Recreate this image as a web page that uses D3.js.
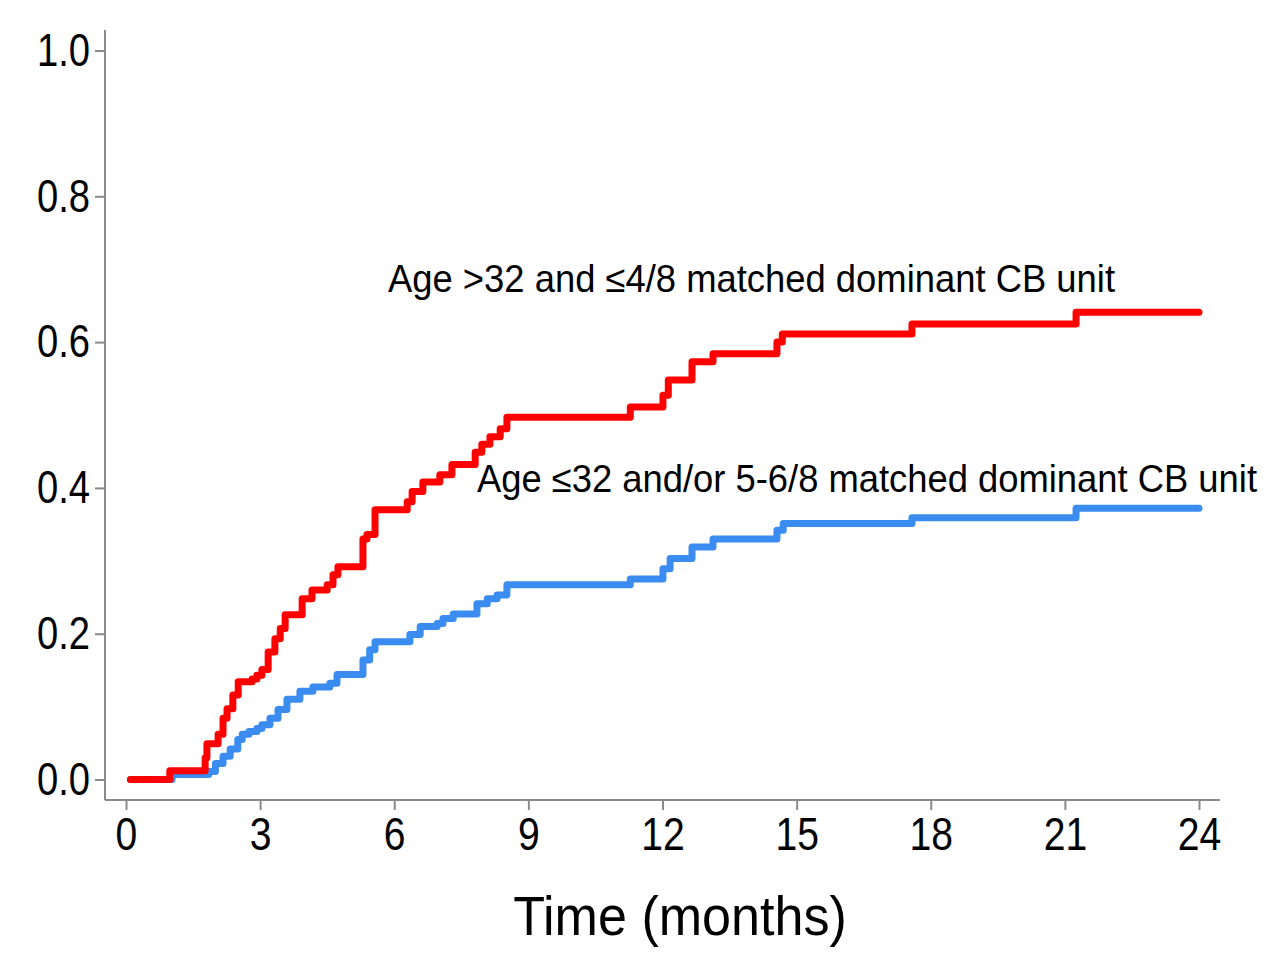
<!DOCTYPE html>
<html>
<head>
<meta charset="utf-8">
<script src="https://cdn.jsdelivr.net/npm/d3@7"></script>
<style>
  html, body { margin: 0; padding: 0; background: #fff; }
  svg { display: block; }
  text { font-family: "Liberation Sans", Arial, sans-serif; fill: #000; }
</style>
</head>
<body>
<svg id="chart" width="1280" height="973"></svg>
<script>
// ---- Data ----
const xTicks = [0, 3, 6, 9, 12, 15, 18, 21, 24];
const yTicks = [0.0, 0.2, 0.4, 0.6, 0.8, 1.0];
const xTitle = "Time (months)";

const seriesNames = [
  "Age ≤32 and/or 5-6/8 matched dominant CB unit",
  "Age >32 and ≤4/8 matched dominant CB unit"
];

// step functions: [time (months), cumulative incidence]
const blueSteps = [
  [0.1,0],[1.03,0.007],[1.85,0.011],[2.0,0.022],[2.17,0.032],[2.33,0.042],[2.5,0.055],
  [2.6,0.062],[2.75,0.066],[2.93,0.070],[3.04,0.075],[3.22,0.084],[3.40,0.096],[3.60,0.110],
  [3.89,0.121],[4.18,0.127],[4.56,0.132],[4.72,0.144],[5.30,0.164],[5.45,0.178],[5.57,0.189],
  [6.35,0.199],[6.58,0.210],[6.96,0.214],[7.09,0.221],[7.32,0.227],[7.85,0.241],[8.08,0.248],
  [8.30,0.253],[8.52,0.267],[11.28,0.275],[12.01,0.289],[12.17,0.303],[12.66,0.319],
  [13.13,0.330],[14.56,0.342],[14.70,0.351],[17.58,0.359],[21.25,0.372],[24.0,0.372]
];

const redSteps = [
  [0.1,0],[0.98,0.012],[1.77,0.030],[1.81,0.049],[2.06,0.062],[2.17,0.084],[2.26,0.097],
  [2.39,0.116],[2.51,0.134],[2.82,0.138],[2.93,0.143],[3.04,0.151],[3.18,0.175],[3.33,0.193],
  [3.45,0.207],[3.56,0.226],[3.94,0.248],[4.16,0.260],[4.50,0.267],[4.63,0.281],[4.74,0.292],
  [5.30,0.330],[5.39,0.336],[5.57,0.370],[6.29,0.381],[6.40,0.395],[6.64,0.408],[7.02,0.418],
  [7.29,0.432],[7.81,0.449],[7.96,0.460],[8.14,0.470],[8.37,0.481],[8.52,0.497],[11.28,0.511],
  [12.01,0.527],[12.13,0.548],[12.66,0.573],[13.13,0.584],[14.56,0.600],[14.68,0.611],
  [17.58,0.625],[21.25,0.641],[24.0,0.641]
];

// ---- Layout ----
const svg = d3.select("#chart");
const x = d3.scaleLinear().domain([0, 24]).range([126, 1199]);
const y = d3.scaleLinear().domain([0, 1]).range([779.5, 50.5]);
const axisColor = "#8a8a8a";
const frameLeft = 105, frameBottom = 800, frameTop = 30, frameRight = 1220;

function narrow(sel, k) {
  sel.each(function() {
    const w = this.getComputedTextLength();
    d3.select(this).attr("textLength", w * k).attr("lengthAdjust", "spacingAndGlyphs");
  });
}

// Y axis
const gy = svg.append("g").attr("transform", `translate(${frameLeft},0)`)
  .call(d3.axisLeft(y).tickValues(yTicks).tickFormat(d3.format(".1f")).tickSize(10).tickPadding(5).tickSizeOuter(0));
gy.select(".domain").remove();
gy.selectAll(".tick line").attr("stroke", axisColor).attr("stroke-width", 2);
gy.selectAll(".tick text").attr("font-size", 46).style("font-family", "Liberation Sans, Arial, sans-serif");
narrow(gy.selectAll(".tick text"), 0.83);
svg.append("line").attr("x1", frameLeft).attr("x2", frameLeft).attr("y1", frameTop).attr("y2", frameBottom)
  .attr("stroke", axisColor).attr("stroke-width", 2);

// X axis
const gx = svg.append("g").attr("transform", `translate(0,${frameBottom})`)
  .call(d3.axisBottom(x).tickValues(xTicks).tickFormat(d3.format("d")).tickSize(10).tickPadding(7).tickSizeOuter(0));
gx.select(".domain").remove();
gx.selectAll(".tick line").attr("stroke", axisColor).attr("stroke-width", 2);
gx.selectAll(".tick text").attr("font-size", 46).style("font-family", "Liberation Sans, Arial, sans-serif");
narrow(gx.selectAll(".tick text"), 0.85);
svg.append("line").attr("x1", frameLeft).attr("x2", frameRight).attr("y1", frameBottom).attr("y2", frameBottom)
  .attr("stroke", axisColor).attr("stroke-width", 2);

// X title
const tt = svg.append("text").attr("x", 680).attr("y", 935).attr("text-anchor", "middle")
  .attr("font-size", 56).text(xTitle);
narrow(tt, 0.93);

// Lines
const line = d3.line().x(d => x(d[0])).y(d => y(d[1])).curve(d3.curveStepAfter);
svg.append("path").datum(blueSteps).attr("d", line).attr("fill", "none")
  .attr("stroke", "#3a8cf0").attr("stroke-width", 7).attr("stroke-linecap", "round").attr("stroke-linejoin", "round");
svg.append("path").datum(redSteps).attr("d", line).attr("fill", "none")
  .attr("stroke", "#ff0000").attr("stroke-width", 7).attr("stroke-linecap", "round").attr("stroke-linejoin", "round");

// Annotations (drawn at 35px, stretched vertically to the reference's glyph height)
const vScale = 38 / 35;
svg.append("text").attr("transform", `translate(388,292) scale(1,${vScale})`).attr("font-size", 35)
  .attr("textLength", 727).attr("lengthAdjust", "spacingAndGlyphs").text(seriesNames[1]);
svg.append("text").attr("transform", `translate(477,492) scale(1,${vScale})`).attr("font-size", 35)
  .attr("textLength", 780).attr("lengthAdjust", "spacingAndGlyphs").text(seriesNames[0]);
</script>
</body>
</html>
